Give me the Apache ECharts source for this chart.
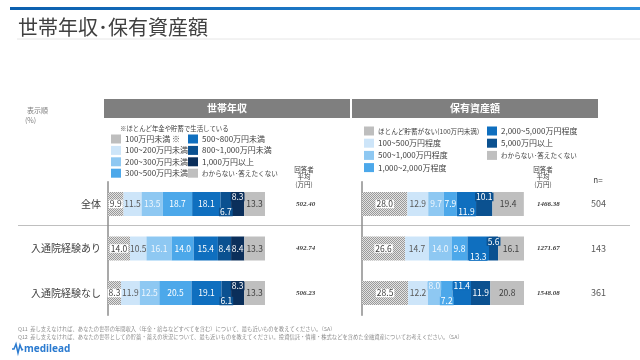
<!DOCTYPE html>
<html><head><meta charset="utf-8">
<script src="https://cdn.jsdelivr.net/npm/echarts@6/dist/echarts.min.js"></script>
<style>html,body{margin:0;padding:0;background:#fff}#c{width:640px;height:360px}</style>
</head><body><div id="c"></div>
<script>
const categories = ['全体', '入通院経験あり', '入通院経験なし'];
const incomeNames = ['100万円未満 ※', '100~200万円未満', '200~300万円未満', '300~500万円未満', '500~800万円未満', '800~1,000万円未満', '1,000万円以上', 'わからない･答えたくない'];
// one array per income band, values for [全体, あり, なし]
const incomeValues = [
  [9.9, 14.0, 8.3],
  [11.5, 10.5, 11.9],
  [13.5, 16.1, 12.5],
  [18.7, 14.0, 20.5],
  [18.1, 15.4, 19.1],
  [6.7, 8.4, 6.1],
  [8.3, 8.4, 8.3],
  [13.3, 13.3, 13.3]
];
const assetNames = ['ほとんど貯蓄がない(100万円未満)', '100~500万円程度', '500~1,000万円程度', '1,000~2,000万程度', '2,000~5,000万円程度', '5,000万円以上', 'わからない･答えたくない '];
const assetValues = [
  [28.0, 26.6, 28.5],
  [12.9, 14.7, 12.2],
  [9.7, 14.0, 8.0],
  [7.9, 9.8, 7.2],
  [11.9, 13.3, 11.4],
  [10.1, 5.6, 11.9],
  [19.4, 16.1, 20.8]
];
const incomeAvg = ['502.40', '492.74', '506.23'];
const assetAvg = ['1466.38', '1271.67', '1548.08'];
const nValues = ['504', '143', '361'];

// ---- styling (kept separate from data) ----
const FONT = '"Noto Sans CJK JP", sans-serif';
function hatch() {
  const c = document.createElement('canvas'); c.width = 4; c.height = 4;
  const g = c.getContext('2d');
  g.fillStyle = '#e2e2e2'; g.fillRect(0, 0, 4, 4);
  g.fillStyle = '#9a9a9a';
  for (let y = 0; y < 4; y++) for (let x = 0; x < 4; x++) if ((x + y) % 2 === 0) g.fillRect(x, y, 1, 1);
  return c;
}
const pattern = { image: hatch(), repeat: 'repeat' };
const incomeColors = [pattern, '#cde5f9', '#8ec8f2', '#4ca8ea', '#0f6fbf', '#0b5190', '#0b2f5b', '#bfbfbf'];
const incomeText = ['#404040', '#595959', '#eef6fd', '#ffffff', '#ffffff', '#ffffff', '#ffffff', '#404040'];
const assetColors = [pattern, '#cde5f9', '#8ec8f2', '#4ca8ea', '#0f6fbf', '#0b5190', '#bfbfbf'];
const assetText = ['#404040', '#595959', '#eef6fd', '#ffffff', '#ffffff', '#ffffff', '#404040'];
// label vertical offsets [seriesIndex][row]
const incomeOffsets = { 5: [8, 0, 8], 6: [-7, 0, -7] };
const assetOffsets = { 2: [0, 0, -7], 3: [0, 0, 8], 4: [8, 8, -7], 5: [-7, -7, 0] };

function buildSeries(names, values, colors, textColors, offsets, axisIdx) {
  return names.map((name, si) => ({
    name, type: 'bar', stack: 's' + axisIdx, xAxisIndex: axisIdx, yAxisIndex: axisIdx === 0 ? 0 : 2,
    barWidth: 24,
    itemStyle: { color: colors[si] },
    label: {
      show: true, position: 'inside', fontSize: 8.5, fontFamily: FONT, color: textColors[si],
      formatter: p => p.value.toFixed(1),
      backgroundColor: si === 0 ? '#ffffff' : 'transparent', padding: si === 0 ? [0, 1] : 0
    },
    data: values[si].map((v, ri) => {
      const off = offsets[si] ? offsets[si][ri] : 0;
      return off ? { value: v, label: { offset: [0, off], backgroundColor: colors[si], padding: [0, 1] } } : v;
    })
  }));
}

const chart = echarts.init(document.getElementById('c'));
const rowTop = 181.75, rowH = 133.5;
const small = n => ({ name: n, textStyle: { fontSize: 6.6 } });
const legendData = [
  { data: incomeNames.slice(0, 4), left: 111, top: 134.5 },
  { data: incomeNames.slice(4, 7).concat([small(incomeNames[7])]), left: 188, top: 134.5 },
  { data: [small(assetNames[0])].concat(assetNames.slice(1, 4)), left: 364, top: 126.5 },
  { data: assetNames.slice(4, 6).concat([small(assetNames[6])]), left: 487, top: 126.5 }
];
const option = {
  animation: false,
  textStyle: { fontFamily: FONT },
  grid: [
    { left: 108, top: rowTop, width: 157, height: rowH },
    { left: 362, top: rowTop, width: 162, height: rowH }
  ],
  xAxis: [
    { gridIndex: 0, type: 'value', min: 0, max: 100, show: false },
    { gridIndex: 1, type: 'value', min: 0, max: 100, show: false }
  ],
  yAxis: [
    { gridIndex: 0, type: 'category', inverse: true, data: categories,
      axisLine: { lineStyle: { color: '#8c8c8c', width: 1.5 } }, axisTick: { show: false },
      axisLabel: { fontSize: 10, color: '#404040', margin: 7, fontFamily: FONT } },
    { gridIndex: 0, type: 'category', inverse: true, position: 'right', data: incomeAvg,
      axisLine: { show: false }, axisTick: { show: false },
      axisLabel: { fontSize: 7, color: '#404040', margin: 31, align: 'left', fontStyle: 'italic', fontWeight: 'bold', fontFamily: '"Liberation Serif", serif' } },
    { gridIndex: 1, type: 'category', inverse: true, data: categories,
      axisLine: { lineStyle: { color: '#8c8c8c', width: 1.5 } }, axisTick: { show: false },
      axisLabel: { show: false } },
    { gridIndex: 1, type: 'category', inverse: true, position: 'right', data: assetAvg,
      axisLine: { show: false }, axisTick: { show: false },
      axisLabel: { fontSize: 7, color: '#404040', margin: 13, align: 'left', fontStyle: 'italic', fontWeight: 'bold', fontFamily: '"Liberation Serif", serif' } },
    { gridIndex: 1, type: 'category', inverse: true, position: 'right', offset: 0, data: nValues,
      axisLine: { show: false }, axisTick: { show: false },
      axisLabel: { fontSize: 9, color: '#595959', margin: 67, align: 'left', fontFamily: FONT } }
  ],
  legend: legendData.map((l, i) => Object.assign(l, {
    orient: 'vertical', icon: 'rect', itemWidth: 10, itemHeight: 9, itemGap: i < 2 ? 2.4 : 3.2, padding: 0, selectedMode: false,
    textStyle: { fontSize: 8, color: '#404040', lineHeight: 9, fontFamily: FONT, padding: [0, 0, 0, -1] }
  })),
  series: [].concat(
    buildSeries(incomeNames, incomeValues, incomeColors, incomeText, incomeOffsets, 0),
    buildSeries(assetNames, assetValues, assetColors, assetText, assetOffsets, 1)
  ),
  graphic: [
    { type: 'rect', shape: { x: 10, y: 7, width: 630, height: 3 }, style: { fill: new echarts.graphic.LinearGradient(0, 0, 1, 0, [{ offset: 0, color: '#0b5fae' }, { offset: 1, color: '#2e8fdc' }]) } },
    { type: 'text', x: 18, y: 27, style: { text: '世帯年収･保有資産額', font: '20px "Noto Sans CJK JP"', fill: '#404040', verticalAlign: 'middle' } },
    { type: 'line', shape: { x1: 17, y1: 39, x2: 640, y2: 39 }, style: { stroke: '#e6e6e6', lineWidth: 1 } },
    { type: 'text', left: 27, top: 107, style: { text: '表示順', font: '7px "Noto Sans CJK JP"', fill: '#7f7f7f' } },
    { type: 'text', left: 25, top: 117, style: { text: '(%)', font: '7px "Noto Sans CJK JP"', fill: '#7f7f7f' } },
    { type: 'rect', shape: { x: 104, y: 99, width: 246, height: 19 }, style: { fill: '#7f7f7f' } },
    { type: 'rect', shape: { x: 352, y: 99, width: 246, height: 19 }, style: { fill: '#7f7f7f' } },
    { type: 'text', x: 227, y: 108.5, style: { text: '世帯年収', font: 'bold 10px "Noto Sans CJK JP"', fill: '#fff', align: 'center', verticalAlign: 'middle' } },
    { type: 'text', x: 475, y: 108.5, style: { text: '保有資産額', font: 'bold 10px "Noto Sans CJK JP"', fill: '#fff', align: 'center', verticalAlign: 'middle' } },
    { type: 'text', x: 120, y: 129, style: { text: '※ほとんど年金や貯蓄で生活している', font: '6.4px "Noto Sans CJK JP"', fill: '#404040', verticalAlign: 'middle' } },
    { type: 'text', x: 304, y: 177, style: { text: '回答者\n平均\n(万円)', font: '6.5px "Noto Sans CJK JP"', lineHeight: 7.5, fill: '#404040', align: 'center', verticalAlign: 'middle' } },
    { type: 'text', x: 543, y: 177, style: { text: '回答者\n平均\n(万円)', font: '6.5px "Noto Sans CJK JP"', lineHeight: 7.5, fill: '#404040', align: 'center', verticalAlign: 'middle' } },
    { type: 'text', x: 598, y: 180, style: { text: 'n=', font: '8px "Noto Sans CJK JP"', fill: '#404040', align: 'center', verticalAlign: 'middle' } },
    { type: 'line', shape: { x1: 18, y1: 225.5, x2: 630, y2: 225.5 }, style: { stroke: '#bfbfbf', lineWidth: 1 } },
    { type: 'text', x: 18, y: 329, style: { text: 'Q11  差し支えなければ、あなたの世帯の年間収入（年金・給与などすべてを含む）について、最も近いものを教えてください。（SA）', font: '5.3px "Noto Sans CJK JP"', fill: '#8c8c8c', verticalAlign: 'middle' } },
    { type: 'text', x: 18, y: 337, style: { text: 'Q12  差し支えなければ、あなたの世帯としての貯蓄・蓄えの状況について、最も近いものを教えてください。投資信託・債権・株式などを含めた金融資産についてお考えください。（SA）', font: '5.3px "Noto Sans CJK JP"', fill: '#8c8c8c', verticalAlign: 'middle' } },
    { type: 'polyline', shape: { points: [[12, 349], [14, 349], [16, 344], [18, 353], [20, 345], [22, 350], [23, 349]] }, style: { stroke: '#2b7bd0', lineWidth: 1.5, fill: null } },
    { type: 'text', x: 24, y: 349, style: { text: 'medilead', font: 'bold 10px "Noto Sans", sans-serif', fill: '#2b7bd0', verticalAlign: 'middle' } }
  ]
};
chart.setOption(option);
</script>
</body></html>
